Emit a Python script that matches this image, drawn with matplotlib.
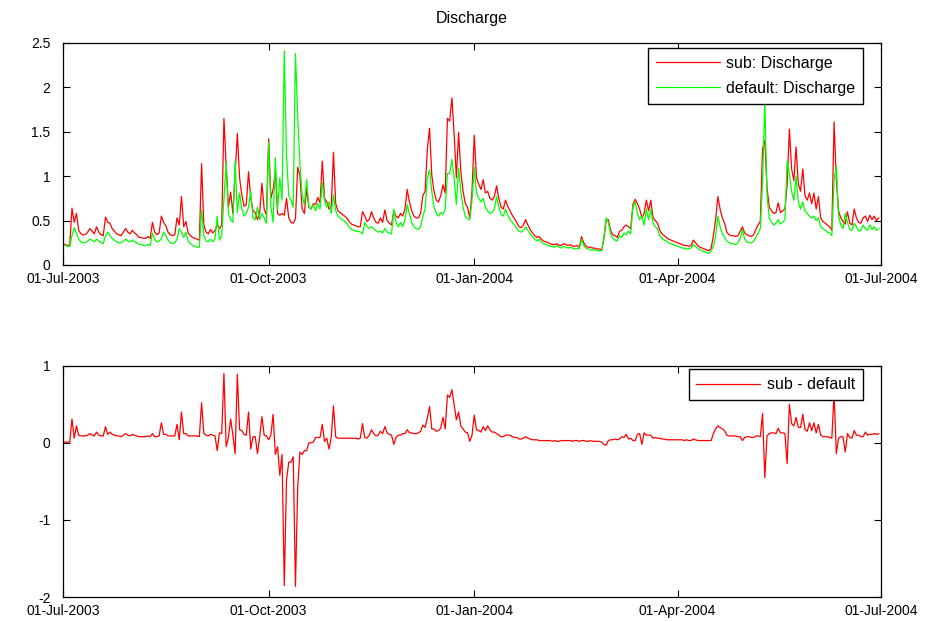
import numpy as np
import matplotlib
matplotlib.use("Agg")
import matplotlib.pyplot as plt
import matplotlib.dates as mdates

plt.rcParams['font.family'] = ['Liberation Sans', 'DejaVu Sans']

# daily values, 01-Jul-2003 .. 30-Jun-2004
days = np.arange('2003-07-01', '2004-07-01', dtype='datetime64[D]')

sub_discharge = [
    0.24, 0.23, 0.22, 0.22, 0.64, 0.48, 0.58, 0.39, 0.35, 0.34,
    0.34, 0.37, 0.41, 0.38, 0.35, 0.43, 0.37, 0.34, 0.33, 0.54,
    0.48, 0.47, 0.41, 0.38, 0.35, 0.34, 0.33, 0.37, 0.41, 0.37,
    0.35, 0.39, 0.36, 0.34, 0.31, 0.31, 0.30, 0.30, 0.32, 0.30,
    0.48, 0.37, 0.34, 0.36, 0.55, 0.48, 0.44, 0.37, 0.34, 0.33,
    0.34, 0.53, 0.45, 0.77, 0.43, 0.49, 0.36, 0.33, 0.31, 0.30,
    0.29, 0.28, 1.14, 0.45, 0.37, 0.35, 0.40, 0.36, 0.39, 0.45,
    0.41, 0.45, 1.65, 1.11, 0.65, 0.82, 0.58, 1.03, 1.48, 0.98,
    0.79, 0.66, 0.68, 1.05, 0.75, 0.61, 0.59, 0.51, 0.59, 0.92,
    0.63, 0.56, 1.42, 0.75, 0.85, 1.06, 0.58, 0.56, 0.58, 0.56,
    0.75, 0.53, 0.48, 0.47, 0.52, 1.10, 1.01, 0.63, 0.58, 0.86,
    0.65, 0.63, 0.69, 0.68, 0.76, 0.70, 1.17, 0.75, 0.71, 0.63,
    0.65, 1.27, 0.69, 0.61, 0.59, 0.57, 0.55, 0.53, 0.49, 0.46,
    0.45, 0.44, 0.43, 0.43, 0.60, 0.55, 0.49, 0.51, 0.60, 0.53,
    0.48, 0.47, 0.53, 0.48, 0.62, 0.50, 0.47, 0.45, 0.61, 0.55,
    0.53, 0.58, 0.55, 0.63, 0.85, 0.71, 0.61, 0.55, 0.53, 0.53,
    0.58, 0.78, 0.83, 1.30, 1.54, 1.01, 0.83, 0.73, 0.71, 0.78,
    0.90, 0.81, 1.65, 1.62, 1.88, 1.47, 0.98, 1.49, 1.05, 0.83,
    0.69, 0.65, 0.53, 0.83, 1.46, 0.98, 0.91, 0.85, 0.96, 0.81,
    0.83, 0.75, 0.73, 0.77, 0.89, 0.75, 0.65, 0.63, 0.73, 0.66,
    0.61, 0.56, 0.52, 0.48, 0.43, 0.42, 0.45, 0.51, 0.45, 0.40,
    0.36, 0.33, 0.31, 0.32, 0.29, 0.27, 0.26, 0.25, 0.24, 0.23,
    0.23, 0.24, 0.22, 0.22, 0.24, 0.23, 0.22, 0.23, 0.21, 0.21,
    0.22, 0.20, 0.32, 0.25, 0.21, 0.20, 0.20, 0.19, 0.19, 0.18,
    0.18, 0.17, 0.29, 0.50, 0.51, 0.39, 0.34, 0.33, 0.31, 0.38,
    0.39, 0.43, 0.45, 0.43, 0.41, 0.68, 0.74, 0.69, 0.63, 0.53,
    0.58, 0.73, 0.61, 0.73, 0.53, 0.50, 0.47, 0.39, 0.35, 0.33,
    0.31, 0.29, 0.28, 0.27, 0.26, 0.25, 0.24, 0.23, 0.22, 0.22,
    0.21, 0.22, 0.28, 0.25, 0.22, 0.20, 0.19, 0.18, 0.17, 0.16,
    0.19, 0.33, 0.51, 0.77, 0.63, 0.53, 0.47, 0.37, 0.34, 0.33,
    0.33, 0.32, 0.33, 0.38, 0.43, 0.36, 0.34, 0.33, 0.32, 0.34,
    0.40, 0.45, 0.49, 1.31, 1.40, 0.87, 0.65, 0.61, 0.58, 0.59,
    0.70, 0.59, 0.61, 0.63, 0.90, 1.53, 1.08, 0.95, 1.33, 0.91,
    0.83, 1.08, 0.78, 0.73, 0.81, 0.69, 0.81, 0.63, 0.77, 0.53,
    0.49, 0.47, 0.45, 0.43, 0.39, 1.61, 0.97, 0.61, 0.53, 0.49,
    0.46, 0.60, 0.47, 0.45, 0.63, 0.53, 0.48, 0.47, 0.53, 0.55,
    0.49, 0.56, 0.51, 0.55, 0.50, 0.53,
]

default_discharge = [
    0.23, 0.22, 0.21, 0.21, 0.33, 0.42, 0.36, 0.29, 0.26, 0.25,
    0.25, 0.27, 0.29, 0.28, 0.26, 0.29, 0.27, 0.25, 0.24, 0.33,
    0.37, 0.33, 0.30, 0.28, 0.26, 0.25, 0.25, 0.27, 0.29, 0.27,
    0.26, 0.28, 0.26, 0.25, 0.23, 0.23, 0.22, 0.22, 0.23, 0.22,
    0.36, 0.29, 0.26, 0.27, 0.29, 0.37, 0.33, 0.28, 0.25, 0.24,
    0.25, 0.29, 0.41, 0.37, 0.31, 0.37, 0.27, 0.24, 0.22, 0.21,
    0.20, 0.20, 0.62, 0.33, 0.27, 0.26, 0.29, 0.26, 0.30, 0.55,
    0.28, 0.33, 0.75, 1.16, 0.58, 0.51, 0.48, 1.17, 0.59, 0.81,
    0.63, 0.55, 0.58, 0.65, 0.83, 0.53, 0.51, 0.65, 0.51, 0.58,
    0.53, 0.47, 1.38, 0.65, 0.48, 1.21, 0.63, 0.98, 0.73, 2.41,
    1.23, 0.78, 0.73, 0.65, 2.38, 1.68, 1.13, 0.78, 0.68, 0.96,
    0.65, 0.63, 0.68, 0.61, 0.69, 0.63, 0.93, 0.73, 0.65, 0.71,
    0.58, 0.79, 0.61, 0.55, 0.53, 0.51, 0.49, 0.47, 0.43, 0.40,
    0.39, 0.38, 0.38, 0.37, 0.35, 0.48, 0.43, 0.41, 0.43, 0.41,
    0.39, 0.37, 0.38, 0.36, 0.41, 0.37, 0.36, 0.35, 0.63, 0.48,
    0.43, 0.48, 0.43, 0.51, 0.68, 0.58, 0.48, 0.43, 0.41, 0.40,
    0.43, 0.55, 0.63, 0.98, 1.07, 0.83, 0.65, 0.58, 0.55, 0.59,
    0.57, 0.63, 1.03, 1.03, 1.19, 0.98, 0.68, 1.09, 0.83, 0.65,
    0.55, 0.52, 0.51, 0.73, 1.10, 0.81, 0.75, 0.71, 0.75, 0.65,
    0.61, 0.58, 0.59, 0.63, 0.77, 0.65, 0.57, 0.55, 0.63, 0.56,
    0.51, 0.48, 0.45, 0.41, 0.38, 0.37, 0.39, 0.43, 0.39, 0.35,
    0.32, 0.29, 0.27, 0.29, 0.26, 0.24, 0.23, 0.22, 0.21, 0.21,
    0.20, 0.22, 0.20, 0.19, 0.21, 0.20, 0.19, 0.20, 0.19, 0.18,
    0.19, 0.18, 0.29, 0.22, 0.19, 0.18, 0.17, 0.17, 0.17, 0.16,
    0.16, 0.16, 0.31, 0.53, 0.48, 0.35, 0.30, 0.28, 0.27, 0.33,
    0.31, 0.36, 0.34, 0.38, 0.35, 0.65, 0.71, 0.58, 0.51, 0.55,
    0.45, 0.63, 0.51, 0.63, 0.47, 0.43, 0.41, 0.33, 0.30, 0.28,
    0.27, 0.25, 0.24, 0.23, 0.22, 0.21, 0.20, 0.19, 0.19, 0.18,
    0.18, 0.19, 0.23, 0.21, 0.19, 0.17, 0.16, 0.15, 0.14, 0.13,
    0.16, 0.21, 0.33, 0.55, 0.43, 0.35, 0.31, 0.27, 0.25, 0.24,
    0.24, 0.23, 0.25, 0.30, 0.40, 0.29, 0.26, 0.25, 0.25, 0.27,
    0.31, 0.36, 0.41, 0.93, 1.85, 0.78, 0.53, 0.48, 0.45, 0.47,
    0.51, 0.46, 0.48, 0.51, 1.17, 1.03, 0.83, 0.73, 1.00, 0.71,
    0.63, 0.71, 0.61, 0.58, 0.55, 0.53, 0.55, 0.50, 0.53, 0.43,
    0.41, 0.39, 0.37, 0.36, 0.33, 0.96, 1.11, 0.55, 0.45, 0.41,
    0.58, 0.48, 0.40, 0.39, 0.47, 0.43, 0.38, 0.39, 0.45, 0.41,
    0.39, 0.45, 0.40, 0.43, 0.39, 0.41,
]

x_ticks = ['2003-07-01', '2003-10-01', '2004-01-01', '2004-04-01', '2004-07-01']

sub_arr = np.array(sub_discharge)
def_arr = np.array(default_discharge)
difference = sub_arr - def_arr

font_size = 10
fig = plt.figure(figsize=(9.31, 6.22), dpi=100)
ax1 = fig.add_axes([0.0677, 0.574, 0.8786, 0.357])
ax2 = fig.add_axes([0.0677, 0.040, 0.8786, 0.372])

ax1.plot(days, sub_arr, color=(1, 0, 0), lw=0.9, label='sub: Discharge')
ax1.plot(days, def_arr, color=(0, 1, 0), lw=0.9, label='default: Discharge')
ax1.set_ylim(0, 2.5)
ax1.set_yticks([0, 0.5, 1, 1.5, 2, 2.5])
ax1.set_yticklabels(['0', '0.5', '1', '1.5', '2', '2.5'])
ax1.set_title('Discharge', fontsize=11.5, pad=14)

ax2.plot(days, difference, color=(1, 0, 0), lw=0.9, label='sub - default')
ax2.set_ylim(-2, 1)
ax2.set_yticks([-2, -1, 0, 1])
ax2.set_yticklabels(['-2', '-1', '0', '1'])

tick_dates = np.array(x_ticks, dtype='datetime64[D]')
for ax in (ax1, ax2):
    ax.set_xlim(tick_dates[0], tick_dates[-1])
    ax.set_xticks(tick_dates)
    ax.xaxis.set_major_formatter(mdates.DateFormatter('%d-%b-%Y'))
    ax.tick_params(direction='in', top=True, right=True, length=5,
                   width=0.8, labelsize=font_size)
    ax.tick_params(axis='y', pad=9)
    ax.tick_params(axis='x', pad=5)
    for s in ax.spines.values():
        s.set_linewidth(0.9)

leg_kw = dict(fontsize=11.5, fancybox=False, framealpha=1, edgecolor='black',
              borderaxespad=0, handlelength=4.0, handletextpad=0.4,
              labelspacing=0.6, borderpad=0.5)
l1 = ax1.legend(loc='upper right', bbox_to_anchor=(0.978, 0.977), **leg_kw)
l2 = ax2.legend(loc='upper right', bbox_to_anchor=(0.978, 0.985), **leg_kw)
for lg in (l1, l2):
    lg.get_frame().set_linewidth(1.0)

fig.savefig('out.png', dpi=100)
